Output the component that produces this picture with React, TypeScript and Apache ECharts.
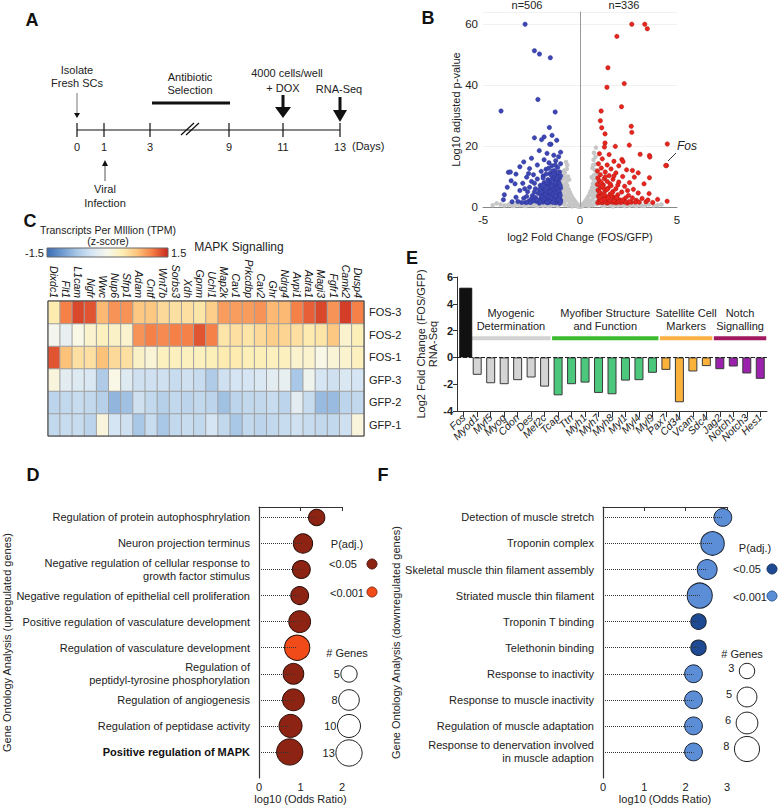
import React, { useEffect, useRef } from 'react';
import * as echarts from 'echarts';

const FONT = "'Liberation Sans', Arial, Helvetica, sans-serif";

// ---------- Panel A ----------
const timelineDays = ['0', '1', '3', '9', '11', '13'];

// ---------- Panel B (volcano) ----------
const volcanoNS: number[][] = [
  [0.05, 0.3], [-0.08, 0.5], [0.12, 0.8], [-0.15, 1.0], [0.2, 1.3], [-0.22, 1.6], [0.28, 2.0], [-0.3, 2.3], [0.35, 2.7], [-0.38, 3.0],
  [0.42, 3.5], [-0.45, 3.9], [0.5, 4.4], [-0.52, 4.8], [0.55, 5.3], [-0.58, 5.8], [0.62, 6.4], [-0.65, 7.0], [0.66, 7.6], [-0.7, 8.2],
  [0.7, 9.0], [-0.74, 9.6], [0.73, 10.5], [-0.78, 11.2], [0.76, 12.2], [-0.82, 12.0], [0.78, 14.0], [0.8, 16.5], [0.82, 19.5], [-0.86, 10.5],
  [0.85, 11.0], [-0.9, 9.0], [0.88, 9.5], [-0.2, 0.4], [0.25, 0.6], [-0.35, 0.9], [0.4, 1.1], [-0.5, 1.5], [0.55, 1.8], [-0.6, 2.2],
  [0.65, 2.6], [-0.72, 3.0], [0.75, 3.4], [-0.8, 3.8], [0.8, 4.2], [-0.85, 4.7], [0.86, 5.2], [-0.9, 5.7], [0.9, 6.3], [-0.95, 6.8],
  [0.93, 7.2], [-0.96, 7.8], [0.96, 8.3], [-1.0, 8.8], [-0.4, 0.2], [0.45, 0.3], [-0.6, 0.5], [0.65, 0.6], [-0.8, 0.8], [0.85, 0.9],
  [-0.95, 1.1], [1.0, 1.2], [-1.1, 0.6], [1.15, 0.5], [-1.3, 0.7], [1.35, 0.8], [-1.5, 0.5], [1.55, 0.6], [-1.7, 0.8], [1.75, 0.7],
  [-1.9, 0.4], [1.95, 0.5], [-2.1, 0.7], [2.15, 0.6], [-2.3, 0.5], [2.35, 0.8], [-2.5, 0.6], [2.55, 0.4], [-2.7, 0.8], [2.75, 0.6],
  [-2.9, 0.5], [2.95, 0.7], [-3.1, 0.6], [3.15, 0.5], [-3.3, 0.8], [3.35, 0.6], [-3.5, 0.5], [3.55, 0.8], [-3.7, 0.7], [-3.9, 0.5],
  [3.8, 0.5], [-4.1, 0.8], [4.0, 0.6], [4.2, 0.8], [-0.75, 1.9], [0.78, 1.6], [-0.88, 2.5], [0.92, 2.8], [-0.98, 3.3], [0.97, 3.7],
  [-1.02, 4.3], [1.0, 5.0], [-0.92, 2.0], [0.95, 1.5], [-1.05, 1.6], [1.08, 1.9], [-1.2, 1.1], [1.22, 1.2], [-1.4, 1.2], [1.45, 1.1],
  [-1.6, 1.1], [1.65, 1.3], [-1.8, 1.3], [1.85, 1.0], [-2.0, 1.1], [2.05, 1.2], [-2.2, 1.0], [2.25, 1.1], [-2.4, 1.2], [2.45, 1.0],
  [-2.6, 1.0], [2.6, 1.2], [-2.85, 1.1], [2.85, 1.0], [-3.2, 1.2], [3.1, 1.1], [-3.6, 1.1], [3.45, 1.0], [-4.3, 1.2], [-4.5, 0.6],
  [0.0, 0.1], [0.1, 0.2], [-0.1, 0.15], [-0.62, 10.0], [-0.68, 12.5], [-0.56, 9.0], [0.6, 9.8], [0.64, 12.8], [0.7, 15.5], [0.72, 17.8],
  [-0.66, 13.8], [-0.72, 14.8], [0.68, 13.8], [-0.3, 0.6], [0.32, 0.9], [-0.48, 1.2], [0.5, 1.4], [-0.55, 3.3], [0.58, 3.9],
  [-0.42, 2.4], [0.46, 2.2], [-0.62, 4.2], [0.68, 4.8], [-0.68, 5.3], [0.72, 6.0], [-0.76, 6.2], [0.8, 7.0], [-0.84, 7.4], [0.84, 8.0],
  [-1.15, 0.3], [1.25, 0.3], [-1.65, 0.3], [1.7, 0.2], [-2.2, 0.3], [2.3, 0.3], [-2.8, 0.3], [2.9, 0.3], [-3.4, 0.3], [3.3, 0.3]
];
const volcanoDown: number[][] = [
  [-2.83, 60], [-4.07, 31.5], [-2.35, 51.3], [-2.09, 50.2], [-1.53, 49], [-2.17, 35.3], [-1.28, 31.2], [-1.58, 26.1], [-1.44, 23.5], [-1.85, 23],
  [-1.98, 22.1], [-2.35, 22.7], [-3.69, 11.4], [-3.59, 11.5], [-3.35, 7.6], [-1.0, 18], [-1.2, 21.9], [-1.5, 20.6], [-1.56, 20.6], [-2.1, 18.5],
  [-1.7, 17.6], [-1.35, 17.0], [-1.1, 16.5], [-2.5, 16.0], [-1.85, 15.5], [-1.25, 15.2], [-2.9, 14.8], [-1.6, 14.5], [-1.0, 14.2], [-2.2, 13.8],
  [-1.45, 13.5], [-3.1, 13.2], [-1.15, 13.0], [-2.6, 12.6], [-1.75, 12.4], [-1.3, 12.0], [-2.0, 11.7], [-1.05, 11.5], [-3.3, 10.8], [-1.55, 11.0],
  [-2.4, 10.6], [-1.2, 10.4], [-1.9, 10.2], [-2.75, 9.8], [-1.4, 9.8], [-1.05, 9.5], [-2.2, 9.2], [-1.65, 9.0], [-3.55, 8.6], [-1.3, 8.6],
  [-2.5, 8.4], [-1.1, 8.2], [-1.85, 8.0], [-2.95, 7.8], [-1.5, 7.6], [-1.2, 7.3], [-2.05, 7.1], [-1.7, 6.9], [-3.75, 6.5], [-2.6, 6.5],
  [-1.35, 6.4], [-1.0, 6.2], [-2.3, 6.0], [-1.55, 5.8], [-1.15, 5.5], [-3.1, 5.4], [-1.9, 5.3], [-2.7, 5.0], [-1.4, 4.9], [-1.05, 4.6],
  [-2.15, 4.5], [-1.65, 4.3], [-3.9, 4.0], [-1.25, 4.0], [-2.45, 3.8], [-1.85, 3.6], [-1.1, 3.4], [-3.3, 3.2], [-1.5, 3.1], [-2.9, 2.9],
  [-2.0, 2.8], [-1.3, 2.6], [-3.95, 2.4], [-1.7, 2.3], [-1.0, 2.2], [-2.6, 2.1], [-1.45, 2.0], [-2.25, 1.9], [-1.15, 1.8], [-3.5, 1.7],
  [-1.9, 1.6], [-2.8, 1.5], [-1.6, 1.5], [-1.25, 1.4], [-2.1, 1.3], [-1.05, 1.2], [-1.62, 8.3], [-1.48, 8.9], [-1.22, 9.1], [-1.08, 7.7],
  [-1.38, 7.1], [-1.58, 6.5], [-1.18, 6.1], [-1.45, 5.4], [-1.3, 5.1], [-1.6, 4.8], [-1.1, 4.2], [-1.52, 3.9], [-1.35, 3.5], [-1.2, 3.0],
  [-1.65, 2.9], [-1.4, 2.6], [-1.05, 2.9], [-1.55, 2.4], [-1.3, 1.9], [-1.75, 1.9], [-1.12, 2.5], [-1.88, 4.6], [-1.78, 5.6], [-1.95, 6.4],
  [-2.1, 5.8], [-2.35, 4.9], [-2.0, 3.7], [-2.3, 3.1], [-2.5, 2.7], [-1.8, 7.5], [-1.42, 11.8], [-1.62, 12.7], [-1.12, 11.2], [-1.28, 13.8],
  [-1.9, 9.5], [-1.75, 10.8], [-1.5, 10.5], [-1.35, 10.9], [-1.15, 9.8], [-1.0, 10.2], [-1.7, 8.1], [-1.28, 7.9], [-1.02, 7.0], [-1.92, 7.2],
  [-1.45, 6.9], [-1.72, 6.2], [-1.1, 5.3], [-1.98, 5.0], [-1.55, 5.0], [-1.25, 4.6], [-1.78, 4.0], [-1.4, 4.2], [-1.02, 3.8], [-1.95, 3.3],
  [-1.62, 3.4], [-1.25, 3.5], [-1.48, 2.9], [-1.85, 2.7], [-1.1, 2.5], [-1.35, 2.2], [-1.6, 1.9], [-1.95, 2.0], [-1.0, 1.6], [-1.4, 1.5],
  [-1.7, 1.4], [-2.2, 2.4], [-2.4, 2.0], [-2.7, 1.6], [-3.0, 1.5], [-3.2, 1.8], [-2.55, 1.5], [-2.05, 1.6], [-2.75, 3.5], [-2.35, 7.8],
  [-2.65, 11], [-2.85, 6.0]
];
const volcanoUp: number[][] = [
  [2.67, 60], [3.34, 60], [3.47, 58.5], [1.9, 56], [1.44, 45.7], [2.28, 40.5], [1.39, 39.3], [2.14, 32.9], [1.09, 31.5], [1.05, 28.3],
  [2.64, 26.5], [2.67, 24.5], [1.12, 26], [1.29, 24], [4.5, 20.7], [4.46, 13.6], [4.42, 13.6], [3.1, 17.3], [3.58, 16.9], [3.6, 16.4],
  [2.54, 20.3], [1.82, 19.9], [1.29, 21], [1.26, 19.7], [2.16, 15.6], [2.22, 14.9], [3.58, 9.6], [4.49, 1.9], [3.56, 4.4], [2.7, 12],
  [3.0, 11.2], [1.0, 17.5], [1.5, 17.2], [1.15, 15.8], [1.75, 15.0], [0.95, 14.2], [1.4, 13.8], [2.0, 13.5], [1.1, 12.8], [1.6, 12.5],
  [2.4, 12.2], [0.9, 11.8], [1.3, 11.5], [1.85, 11.2], [1.05, 10.6], [1.5, 10.3], [2.2, 10.0], [2.8, 9.8], [0.92, 9.5], [1.25, 9.3],
  [1.7, 9.1], [1.0, 8.6], [1.4, 8.4], [2.0, 8.2], [2.55, 8.0], [3.3, 7.6], [0.9, 7.4], [1.2, 7.2], [1.6, 7.0], [2.3, 6.8],
  [1.05, 6.4], [1.45, 6.2], [1.85, 6.0], [2.75, 5.8], [0.93, 5.5], [1.3, 5.3], [1.7, 5.1], [2.15, 4.9], [3.0, 4.6], [1.1, 4.4],
  [1.55, 4.2], [1.95, 4.0], [2.5, 3.8], [0.95, 3.6], [1.35, 3.4], [1.75, 3.2], [2.35, 3.0], [3.2, 2.8], [1.05, 2.6], [1.5, 2.5],
  [2.05, 2.3], [2.9, 2.2], [0.98, 2.0], [1.3, 1.9], [1.65, 1.8], [2.25, 1.7], [2.65, 1.6], [3.4, 1.7], [1.15, 1.5], [1.85, 1.4],
  [1.4, 1.3], [0.92, 1.4], [2.45, 1.3], [3.75, 1.5], [1.2, 3.0], [1.0, 4.9], [1.25, 6.0], [1.6, 3.6], [1.4, 2.1], [1.8, 2.6], [1.1, 8.0],
  [1.05, 1.6], [1.2, 1.6], [1.35, 1.55], [1.5, 1.6], [1.7, 1.55], [1.95, 1.6], [2.1, 1.5], [2.35, 1.6], [2.55, 1.8], [2.85, 1.6],
  [3.05, 1.6], [1.1, 2.2], [1.28, 2.4], [1.55, 2.1], [1.75, 2.0], [2.0, 2.0], [2.2, 2.3], [1.0, 3.2], [1.45, 3.0], [1.9, 3.1],
  [1.25, 4.0], [1.65, 4.6], [1.4, 5.8], [1.15, 6.8], [1.55, 7.6], [1.95, 7.2], [1.3, 9.9], [1.75, 10.2], [2.45, 5.4], [2.7, 3.0],
  [3.5, 2.3], [4.0, 2.5]
];
const nDownLabel = 'n=506';
const nUpLabel = 'n=336';

// ---------- Panel C (heatmap) ----------
const heatGenes = ['Dixdc1', 'Flt1', 'L1cam', 'Ngfr', 'Wwc', 'Nup6', 'Sfrp1', 'Adam', 'Cntf', 'Wnt7b', 'Sorbs3', 'Xdh', 'Gpnm',
  'Uchl1', 'Map2k', 'Cav1', 'Prkcdbp', 'Cav2', 'Ghr', 'Ndrg4', 'Avpi1', 'Adra1', 'Magi3', 'Fgfr1', 'Camk2', 'Dusp4'];
const heatSamples = ['GFP-1', 'GFP-2', 'GFP-3', 'FOS-1', 'FOS-2', 'FOS-3'];
const zFOS3 = [0.4, 1.1, 1.35, 1.3, 0.8, 1.0, 1.0, 0.7, 0.7, 0.55, 0.5, 0.5, 0.45, 0.65, 0.95, 0.95, 0.95, 1.0, 0.8, 0.8, 1.1, 1.25, 1.35, 1.0, 1.4, 1.1];
const zFOS2 = [-0.05, -0.2, 0.05, 0.2, 0.3, 0.25, 0.2, 1.0, 1.1, 1.05, 1.1, 1.1, 1.3, 1.1, 0.45, 0.5, 0.45, 0.55, 0.65, 0.6, 0.5, 0.4, 0.45, 0.7, 0.2, 0.35];
const zFOS1 = [1.3, 0.75, 0.5, 0.5, 0.75, 0.55, 0.5, 0.25, 0.15, 0.3, 0.3, 0.3, 0.3, 0.35, 0.4, 0.4, 0.35, 0.35, 0.3, 0.3, 0.2, 0.2, 0.05, 0.15, 0.2, 0.3];
const zGFP3 = [0.1, -0.25, -0.3, -0.35, -0.7, 0.05, -0.3, -0.45, -0.45, -0.45, -0.5, -0.45, -0.5, -0.7, -0.45, -0.4, -0.4, -0.35, -0.25, -0.2, -0.75, -0.1, -0.4, -0.45, -0.35, -0.4];
const zGFP2 = [-0.6, -0.55, -0.5, -0.55, -0.65, -0.9, -0.8, -0.45, -0.55, -0.65, -0.55, -0.6, -0.55, -0.6, -0.8, -0.6, -0.55, -0.55, -0.5, -0.6, -0.25, -0.5, -0.85, -0.85, -0.6, -0.55];
const zGFP1 = [-0.55, -0.5, -0.5, -0.6, 0.1, -0.4, -0.45, -0.75, -0.5, -0.75, -0.55, -0.5, -0.55, -0.4, -0.55, -0.75, -0.55, -0.6, -0.55, -0.5, -0.45, -0.5, -0.55, -0.55, -0.45, 0.1];
const heatRowsBottomUp = [zGFP1, zGFP2, zGFP3, zFOS1, zFOS2, zFOS3];
const heatRange = [-1.5, 1.5];

// ---------- Panel E (bars) ----------
const eGenes = ['Fos', 'Myod1', 'Myf5', 'Myog', 'Cdon', 'Des', 'Mef2c', 'Tcap', 'Ttn', 'Myh1', 'Myh7', 'Myh8', 'Myl1', 'Myl4',
  'Myl9', 'Pax7', 'Cd34', 'Vcam', 'Sdc4', 'Jag2', 'Notch1', 'Notch3', 'Hes1'];
const eValues = [5.2, -1.3, -1.93, -2.0, -1.7, -1.5, -2.18, -2.83, -2.0, -1.88, -2.65, -2.75, -1.73, -1.7, -1.15, -0.93, -3.35, -1.05, -0.65, -0.88, -0.68, -1.2, -1.6];
const eGroupIdx = [0, 1, 1, 1, 1, 1, 1, 2, 2, 2, 2, 2, 2, 2, 2, 3, 3, 3, 3, 4, 4, 4, 4];
const eGroupNames = ['', 'Myogenic\nDetermination', 'Myofiber Structure\nand Function', 'Satellite Cell\nMarkers', 'Notch\nSignalling'];
const eTicks = [-4, -2, 0, 2, 4, 6];

// ---------- Panel D ----------
const dTerms = ['Regulation of protein autophosphrylation', 'Neuron projection terminus',
  'Negative regulation of cellular response to\ngrowth factor stimulus', 'Negative regulation of epithelial cell proliferation',
  'Positive regulation of vasculature development', 'Regulation of vasculature development',
  'Regulation of\npeptidyl-tyrosine phosphorylation', 'Regulation of angiogenesis', 'Regulation of peptidase activity',
  'Positive regulation of MAPK'];
const dOdds = [1.39, 1.06, 1.02, 0.98, 0.98, 0.92, 0.83, 0.83, 0.76, 0.74];
const dGenes = [5, 7, 6, 6, 9, 12, 8, 9, 10, 13];
const dPadj = ['<0.05', '<0.05', '<0.05', '<0.05', '<0.05', '<0.001', '<0.05', '<0.05', '<0.05', '<0.05'];
const dLegendGenes = [5, 8, 10, 13];

// ---------- Panel F ----------
const fTerms = ['Detection of muscle stretch', 'Troponin complex', 'Skeletal muscle thin filament assembly',
  'Striated muscle thin filament', 'Troponin T binding', 'Telethonin binding', 'Response to inactivity',
  'Response to muscle inactivity', 'Regulation of muscle adaptation', 'Response to denervation involved\nin muscle adaption'];
const fOdds = [2.9, 2.65, 2.52, 2.34, 2.31, 2.31, 2.19, 2.19, 2.19, 2.19];
const fGenes = [4, 7, 5, 8, 3, 3, 4, 4, 4, 4];
const fPadj = ['<0.001', '<0.001', '<0.001', '<0.001', '<0.05', '<0.05', '<0.001', '<0.001', '<0.001', '<0.001'];
const fLegendGenes = [3, 5, 6, 8];

// ---------- styling ----------
const C_DOWN = '#3d47b4';
const C_UP = '#e8251f';
const C_NS = '#c6c6c6';
const HEAT_COLORS = ['#3b6db4', '#6e9ad0', '#a9c7e6', '#d8e7f4', '#f8f8ec', '#fdeeb4', '#fdc27a', '#f47c45', '#c9261c'];
const E_BAR_COLORS = ['#111111', '#d4d4d4', '#4cc87c', '#fbb23b', '#9c22ad'];
const E_GROUP_COLORS = ['#000', '#d2d2d2', '#3dbb2f', '#fcb144', '#a0195e'];
const D_COLORS: Record<string, string> = { '<0.05': '#8c2313', '<0.001': '#f04b18' };
const F_COLORS: Record<string, string> = { '<0.05': '#1e4a94', '<0.001': '#5b8ed6' };
const sizeD = (n: number) => 7.3 * Math.sqrt(n);
const sizeF = (n: number) => 8.9 * Math.sqrt(n);

const txt = (text: string, x: number, y: number, o: any = {}) => ({
  type: 'text', x, y, silent: true, z: 10,
  style: {
    text, fontSize: o.size || 11, fontFamily: FONT, fontWeight: o.weight || 'normal', fontStyle: o.style || 'normal',
    fill: o.color || '#222', align: o.align || 'center', textAlign: o.align || 'center',
    verticalAlign: 'middle', textVerticalAlign: 'middle', lineHeight: o.lh || 13,
  },
});
const line = (x1: number, y1: number, x2: number, y2: number, stroke = '#111', w = 1) => ({
  type: 'line', silent: true, shape: { x1, y1, x2, y2 }, style: { stroke, lineWidth: w },
});
const poly = (points: number[][], fill = '#111') => ({ type: 'polygon', silent: true, shape: { points }, style: { fill } });
const rect = (x: number, y: number, width: number, height: number, fill: any, stroke?: string) => ({
  type: 'rect', silent: true, shape: { x, y, width, height }, style: { fill, stroke: stroke || null, lineWidth: 1 },
});
const circ = (cx: number, cy: number, r: number, fill: string, stroke = '#222') => ({
  type: 'circle', silent: true, shape: { cx, cy, r }, style: { fill, stroke, lineWidth: 1 },
});

function panelAGraphics() {
  const xs = [77, 104, 150, 229, 283, 340];
  const g: any[] = [];
  g.push(txt('A', 32, 20, { size: 18, weight: 'bold', color: '#111' }));
  g.push(line(xs[0], 130, xs[5], 130, '#111', 1.2));
  xs.forEach((x, i) => {
    g.push(line(x, 123, x, 137, '#111', 1.2));
    g.push(txt(timelineDays[i], x, 147));
  });
  g.push(txt('(Days)', 352, 146, { align: 'left' }));
  g.push(line(181, 135, 194, 123, '#111', 1.2));
  g.push(line(186, 135, 199, 123, '#111', 1.2));
  g.push(txt('Isolate', 77, 70));
  g.push(txt('Fresh SCs', 77, 83));
  g.push(line(77, 93, 77, 113, '#777', 1));
  g.push(poly([[74, 113], [80, 113], [77, 118]]));
  g.push(txt('Antibiotic', 190, 77));
  g.push(txt('Selection', 190, 90));
  g.push(rect(152, 101.5, 78, 3, '#111'));
  g.push(txt('4000 cells/well', 287, 73));
  g.push(txt('+ DOX', 283, 88));
  g.push(rect(281.5, 95, 3, 13, '#111'));
  g.push(poly([[275, 107], [291, 107], [283, 118]]));
  g.push(txt('RNA-Seq', 339, 89));
  g.push(rect(338.5, 97, 3, 14, '#111'));
  g.push(poly([[333, 110], [347, 110], [340, 122]]));
  g.push(line(105, 166, 105, 181, '#555', 1));
  g.push(poly([[102, 166], [108, 166], [105, 160]]));
  g.push(txt('Viral', 105, 189));
  g.push(txt('Infection', 105, 203));
  return g;
}

function otherGraphics() {
  const g: any[] = [];
  // panel labels
  g.push(txt('B', 428, 18, { size: 18, weight: 'bold', color: '#111' }));
  g.push(txt('C', 30, 221, { size: 18, weight: 'bold', color: '#111' }));
  g.push(txt('D', 33, 475, { size: 18, weight: 'bold', color: '#111' }));
  g.push(txt('E', 412, 258, { size: 18, weight: 'bold', color: '#111' }));
  g.push(txt('F', 383, 475, { size: 18, weight: 'bold', color: '#111' }));
  // panel B annotations
  g.push(txt(nDownLabel, 527, 5));
  g.push(txt(nUpLabel, 624, 5));
  g.push(txt('Fos', 677, 146, { align: 'left', style: 'italic', size: 12 }));
  g.push(line(668, 161, 676, 153, '#333', 1));
  // panel C colour bar (same stops as the heatmap's visualMap)
  g.push(txt('Transcripts Per MIllion (TPM)', 108, 230, { size: 10.5 }));
  g.push(txt('(z-score)', 108, 241, { size: 10.5 }));
  g.push(txt('MAPK Signalling', 239, 247, { size: 12 }));
  g.push({
    type: 'rect', silent: true, z: 20, shape: { x: 47, y: 248, width: 121, height: 9 },
    style: {
      fill: {
        type: 'linear', x: 0, y: 0, x2: 1, y2: 0,
        colorStops: HEAT_COLORS.map((c, i) => ({ offset: i / (HEAT_COLORS.length - 1), color: c })),
      },
      stroke: '#666', lineWidth: 1,
    },
  });
  g.push(txt(String(heatRange[0]), 44, 253, { align: 'right', size: 11 }));
  g.push(txt(String(heatRange[1]), 171, 253, { align: 'left', size: 11 }));
  // legends D
  g.push(txt('P(adj.)', 347, 544, { size: 11 }));
  g.push(txt('<0.05', 343, 564, { size: 11 }));
  g.push(circ(372, 564, 5, D_COLORS['<0.05'], '#4a160c'));
  g.push(txt('<0.001', 347, 593, { size: 11 }));
  g.push(circ(372, 592, 5, D_COLORS['<0.001'], '#8a2a0c'));
  g.push(txt('# Genes', 347, 653, { size: 11 }));
  const dly = [674, 700, 726, 753];
  dLegendGenes.forEach((n, i) => {
    const r = sizeD(n) / 2;
    g.push(circ(349, dly[i], r, '#fff', '#222'));
    g.push(txt(String(n), 349 - r - 1, dly[i], { align: 'right', size: 11 }));
  });
  // legends F
  g.push(txt('P(adj.)', 755, 548, { size: 11 }));
  g.push(txt('<0.05', 747, 569, { size: 11 }));
  g.push(circ(772, 569, 5, F_COLORS['<0.05'], '#16305e'));
  g.push(txt('<0.001', 750, 597, { size: 11 }));
  g.push(circ(772, 596, 5, F_COLORS['<0.001'], '#2e5690'));
  g.push(txt('# Genes', 742, 654, { size: 11 }));
  const fly = [671, 697, 723, 749];
  fLegendGenes.forEach((n, i) => {
    const r = sizeF(n) / 2;
    g.push(circ(747, fly[i], r, '#fff', '#222'));
    g.push(txt(String(n), 747 - r - 5, fly[i] - 3, { align: 'right', size: 11 }));
  });
  return g;
}

function bubbleSeries(terms: string[], odds: number[], genes: number[], padj: string[], colors: Record<string, string>,
  sizeFn: (n: number) => number, axisIdx: number, border: string) {
  const mk = (level: string, withLines: boolean) => ({
    type: 'scatter', name: level, xAxisIndex: axisIdx, yAxisIndex: axisIdx, silent: true, z: 3,
    data: terms.map((_, i) => (padj[i] === level ? [odds[i], i + 0.4, genes[i]] : null)).filter(Boolean),
    symbolSize: (v: number[]) => sizeFn(v[2]),
    itemStyle: { color: colors[level], borderColor: border, borderWidth: 1, opacity: 1 },
    markLine: withLines ? {
      silent: true, symbol: ['none', 'none'], label: { show: false }, z: 5,
      lineStyle: { type: 'dotted', color: '#333', width: 1 },
      data: terms.map((_, i) => [{ coord: [0, i + 0.4] }, { coord: [odds[i], i + 0.4] }]),
    } : undefined,
  });
  return [mk('<0.05', true), mk('<0.001', false)];
}

function bubbleYAxis(grid: number, terms: string[], name: string, nameGap: number, boldLast: boolean) {
  return {
    gridIndex: grid, type: 'value', min: 0, max: 10.4, inverse: true,
    axisLine: { show: true, lineStyle: { color: '#333', width: 1.2 } },
    axisTick: { show: false }, splitLine: { show: false },
    axisLabel: {
      customValues: terms.map((_, i) => i + 0.4), margin: 9, fontSize: 11, fontFamily: FONT, color: '#222',
      lineHeight: 13, align: 'right',
      formatter: (v: number) => {
        const i = Math.round(v - 0.4);
        const t = terms[i] ?? '';
        return boldLast && i === terms.length - 1 ? `{b|${t}}` : t;
      },
      rich: { b: { fontWeight: 'bold', fontSize: 11, fontFamily: FONT, color: '#111' } },
    },
    name, nameLocation: 'middle', nameRotate: 90, nameGap,
    nameTextStyle: { fontSize: 11, fontFamily: FONT, color: '#222' },
  };
}

function bubbleXAxis(grid: number, max: number) {
  return {
    gridIndex: grid, type: 'value', min: 0, max, interval: 1,
    axisLine: { show: true, lineStyle: { color: '#333', width: 1.2 } },
    axisTick: { show: true, length: 4, lineStyle: { color: '#333' } },
    splitLine: { show: false },
    axisLabel: { fontSize: 11, fontFamily: FONT, color: '#222', margin: 3 },
    name: 'log10 (Odds Ratio)', nameLocation: 'middle', nameGap: 15,
    nameTextStyle: { fontSize: 11, fontFamily: FONT, color: '#222' },
  };
}

export default function App() {
  const ref = useRef<HTMLDivElement>(null);
  useEffect(() => {
    if (!ref.current) return;
    const chart = echarts.init(ref.current, null, { renderer: 'svg', width: 780, height: 807 });

    const heatData: number[][] = [];
    heatRowsBottomUp.forEach((row, r) => row.forEach((v, c) => heatData.push([c, r, v])));

    const axisTxt = { fontSize: 11, fontFamily: FONT, color: '#222' };

    const option: any = {
      animation: false,
      backgroundColor: '#fff',
      textStyle: { fontFamily: FONT },
      grid: [
        { left: 483, top: 12, width: 194, height: 195 },
        { left: 48, top: 301, width: 316, height: 135, show: true, borderColor: '#444', borderWidth: 1, backgroundColor: 'transparent', z: 5 },
        { left: 457, top: 277, width: 310, height: 134 },
        { left: 259, top: 507, width: 83, height: 271 },
        { left: 603, top: 507, width: 124, height: 271 },
      ],
      xAxis: [
        {
          gridIndex: 0, type: 'value', min: -5, max: 5, interval: 5,
          axisLine: { show: true, onZero: false, lineStyle: { color: '#888' } }, axisTick: { show: false }, splitLine: { show: false },
          axisLabel: { ...axisTxt, fontSize: 11.5, margin: 7 },
          name: 'log2 Fold Change (FOS/GFP)', nameLocation: 'middle', nameGap: 24, nameTextStyle: axisTxt,
        },
        {
          gridIndex: 1, type: 'category', data: heatGenes, position: 'top',
          axisLine: { show: false }, axisTick: { show: false }, splitLine: { show: false },
          axisLabel: { rotate: 90, fontStyle: 'italic', fontSize: 10.5, fontFamily: FONT, color: '#111', margin: 3, interval: 0 },
        },
        {
          gridIndex: 2, type: 'category', data: eGenes,
          axisLine: { show: true, onZero: false, lineStyle: { color: '#333' } },
          axisTick: { show: true, alignWithLabel: true, length: 6, lineStyle: { color: '#333' } },
          axisLabel: { rotate: 45, fontStyle: 'italic', fontSize: 10.5, fontFamily: FONT, color: '#222', margin: 5, interval: 0 },
        },
        bubbleXAxis(3, 2),
        bubbleXAxis(4, 3),
      ],
      yAxis: [
        {
          gridIndex: 0, type: 'value', min: 0, max: 64, interval: 20,
          axisLine: { show: true, lineStyle: { color: '#888' } }, axisTick: { show: false },
          splitLine: { show: true, lineStyle: { color: '#f1f1f1' } },
          axisLabel: { ...axisTxt, fontSize: 11.5, margin: 5, showMaxLabel: false },
          name: 'Log10 adjusted p-value', nameLocation: 'middle', nameGap: 22, nameRotate: 90, nameTextStyle: axisTxt,
        },
        {
          gridIndex: 1, type: 'category', data: heatSamples, position: 'right',
          axisLine: { show: false }, axisTick: { show: false }, splitLine: { show: false },
          axisLabel: { ...axisTxt, fontSize: 11, margin: 5 },
        },
        {
          gridIndex: 2, type: 'value', min: -4, max: 6, interval: 2,
          axisLine: { show: true, lineStyle: { color: '#333' } },
          axisTick: { show: true, length: 4, lineStyle: { color: '#333' } }, splitLine: { show: false },
          axisLabel: { ...axisTxt, fontWeight: 'bold', margin: 4, customValues: eTicks },
          name: 'Log2 Fold Change (FOS/GFP)\nRNA-Seq', nameLocation: 'middle', nameRotate: 90, nameGap: 18,
          nameTextStyle: { ...axisTxt, lineHeight: 12 },
        },
        bubbleYAxis(3, dTerms, 'Gene Ontology Analysis (upregulated genes)', 246, true),
        bubbleYAxis(4, fTerms, 'Gene Ontology Analysis (downregulated genes)', 194, false),
      ],
      visualMap: [{
        type: 'continuous', show: false, seriesIndex: 3, dimension: 2, min: heatRange[0], max: heatRange[1],
        inRange: { color: HEAT_COLORS },
      }],
      series: [
        {
          type: 'scatter', xAxisIndex: 0, yAxisIndex: 0, data: volcanoNS, symbolSize: 4.5, silent: true,
          itemStyle: { color: C_NS, opacity: 1 },
          markLine: { silent: true, symbol: ['none', 'none'], label: { show: false }, lineStyle: { color: '#999', type: 'solid', width: 1 }, data: [{ xAxis: 0 }] },
        },
        { type: 'scatter', xAxisIndex: 0, yAxisIndex: 0, data: volcanoDown, symbolSize: 4.5, silent: true, itemStyle: { color: C_DOWN, opacity: 1, borderColor: '#2a3190', borderWidth: 0.4 } },
        { type: 'scatter', xAxisIndex: 0, yAxisIndex: 0, data: volcanoUp, symbolSize: 4.5, silent: true, itemStyle: { color: C_UP, opacity: 1, borderColor: '#a51510', borderWidth: 0.4 } },
        {
          type: 'heatmap', xAxisIndex: 1, yAxisIndex: 1, data: heatData, silent: true,
          itemStyle: { borderColor: '#a0a0a0', borderWidth: 1 },
        },
        {
          type: 'bar', xAxisIndex: 2, yAxisIndex: 2, barWidth: 13, barGap: '-100%', silent: true,
          data: eValues.map((v, i) => (i === 0 ? v : '-')),
          itemStyle: { color: E_BAR_COLORS[0], borderColor: '#111', borderWidth: 1 },
        },
        {
          type: 'bar', xAxisIndex: 2, yAxisIndex: 2, barWidth: 9, silent: true,
          data: eValues.map((v, i) => (i === 0 ? '-' : { value: v, itemStyle: { color: E_BAR_COLORS[eGroupIdx[i]] } })),
          itemStyle: { borderColor: '#3a3a3a', borderWidth: 1 },
          markLine: { silent: true, symbol: ['none', 'none'], label: { show: false }, lineStyle: { color: '#222', type: 'dashed', width: 1 }, data: [{ yAxis: 0 }] },
        },
        ...bubbleSeries(dTerms, dOdds, dGenes, dPadj, D_COLORS, sizeD, 3, '#2b0f08'),
        ...bubbleSeries(fTerms, fOdds, fGenes, fPadj, F_COLORS, sizeF, 4, '#1b2433'),
      ],
      graphic: [...panelAGraphics(), ...otherGraphics()],
    };
    chart.setOption(option);

    // Panel E group annotations positioned through the chart's own axes
    const groupEls: any[] = [];
    for (let gIdx = 1; gIdx <= 4; gIdx++) {
      const idxs = eGroupIdx.map((g, i) => (g === gIdx ? i : -1)).filter((i) => i >= 0);
      const x1 = chart.convertToPixel({ xAxisIndex: 2 }, eGenes[idxs[0]]) as number;
      const x2 = chart.convertToPixel({ xAxisIndex: 2 }, eGenes[idxs[idxs.length - 1]]) as number;
      const yBar = chart.convertToPixel({ yAxisIndex: 2 }, 1.42) as number;
      const yTxt = chart.convertToPixel({ yAxisIndex: 2 }, 2.85) as number;
      groupEls.push(rect(x1 - 6, yBar - 2, x2 - x1 + 12, 4, E_GROUP_COLORS[gIdx]));
      groupEls.push(txt(eGroupNames[gIdx], (x1 + x2) / 2, yTxt, { size: 11 }));
    }
    chart.setOption({ graphic: [...panelAGraphics(), ...otherGraphics(), ...groupEls] });

    return () => chart.dispose();
  }, []);
  return <div ref={ref} style={{ position: 'absolute', left: 0, top: 0, width: 780, height: 807, background: '#fff' }} />;
}
